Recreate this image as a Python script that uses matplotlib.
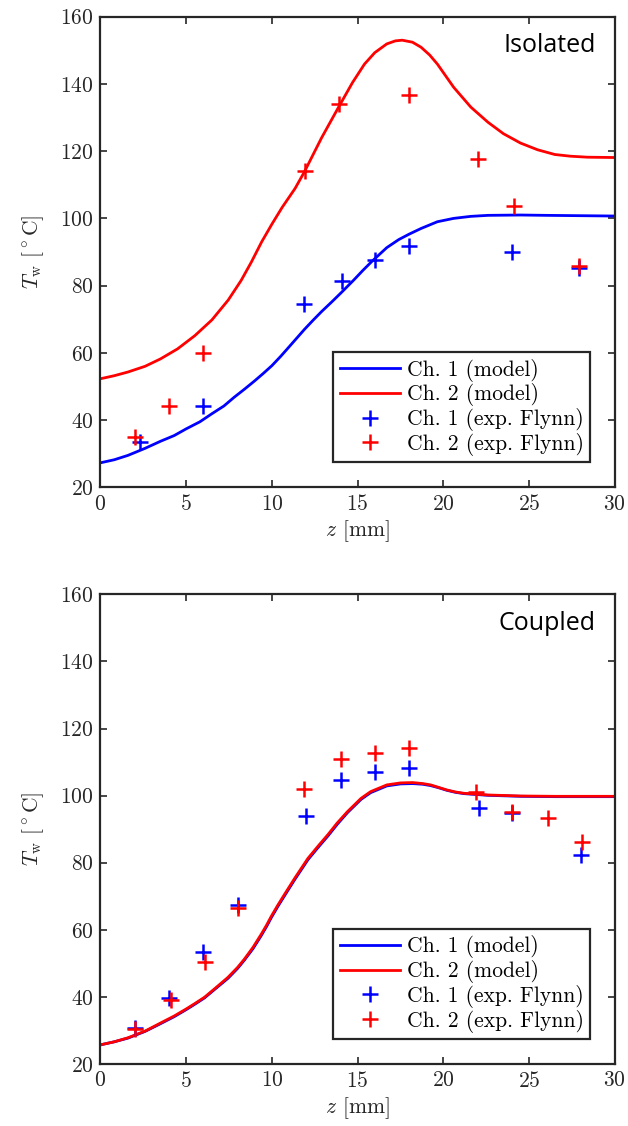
import matplotlib
matplotlib.use("Agg")
import matplotlib.pyplot as plt

plt.rcParams['font.family'] = ['cmr10', 'DejaVu Serif']
plt.rcParams['mathtext.fontset'] = 'cm'
plt.rcParams['axes.formatter.use_mathtext'] = True

# ---- isolated case ----
iso_z_model_ch1 = [0, 0.8, 1.6, 2.6, 3.5, 4.3, 5, 5.8, 6.5, 7.2, 7.8, 8.4, 9, 9.5, 10, 10.5,
                   10.9, 11.4, 11.9, 12.4, 12.9, 13.5, 14.1, 14.8, 15.3, 15.85, 16.7, 17.4,
                   18, 18.7, 19.65, 20.6, 21.6, 22.6, 24.5, 26, 28, 30]
iso_T_model_ch1 = [27.3, 28.2, 29.5, 31.6, 33.7, 35.4, 37.4, 39.5, 41.9, 44.2, 46.8, 49.2, 51.7,
                   53.9, 56.2, 58.9, 61.2, 64.1, 67.0, 69.7, 72.3, 75.2, 78.2, 81.8, 84.5,
                   87.3, 91.3, 93.7, 95.3, 97.0, 99.0, 100.0, 100.6, 100.9, 101.0, 100.9, 100.8, 100.7]

iso_z_model_ch2 = [0, 0.8, 1.6, 2.6, 3.5, 4.5, 5.5, 6.5, 7.45, 8.2, 8.8, 9.4, 10, 10.6, 11.35,
                   11.9, 12.9, 13.9, 14.7, 15.4, 16, 16.7, 17.2, 17.6, 18.2, 18.7, 19.2, 19.65,
                   20.6, 21.6, 22.6, 23.5, 24.5, 25.5, 26.5, 27.4, 28.4, 30]
iso_T_model_ch2 = [52.3, 53.2, 54.3, 56.0, 58.2, 61.2, 65.1, 69.8, 75.7, 81.5, 87.0, 93.0, 98.3,
                   103.3, 108.9, 113.9, 124.0, 133.2, 140.4, 145.9, 149.3, 151.9, 152.8, 153.0,
                   152.4, 150.9, 148.6, 145.9, 139.0, 133.1, 128.6, 125.2, 122.4, 120.4, 119.0,
                   118.5, 118.2, 118.1]

iso_z_exp_ch1 = [2.3, 6, 11.9, 14.1, 16, 18, 24, 27.9]
iso_T_exp_ch1 = [33.6, 44.2, 74.4, 81.3, 87.7, 91.8, 90.0, 85.2]
iso_z_exp_ch2 = [2, 4, 6, 11.95, 13.9, 18, 22, 24.1, 27.9]
iso_T_exp_ch2 = [34.9, 44.2, 60.0, 114.1, 134.0, 136.7, 117.6, 103.8, 85.8]

# ---- coupled case ----
cpl_z_model_ch2 = [0, 0.8, 1.6, 2.6, 3.5, 4.3, 5, 5.5, 6.07, 6.7, 7.43, 8, 8.4, 8.9, 9.38, 9.7,
                   9.96, 10.35, 10.74, 11.32, 12.1, 12.7, 13.27, 13.8, 14.4, 14.8, 15.2, 15.76,
                   16.7, 17.5, 18.2, 18.8, 19.26, 19.7, 20.2, 20.7, 21.2, 22.6, 24.5, 26.5, 28.5, 30]
cpl_T_model_ch2 = [25.7, 26.6, 27.8, 29.8, 32.2, 34.3, 36.4, 38.0, 39.9, 42.6, 45.8, 48.8, 51.3,
                   54.8, 58.7, 61.5, 64.0, 67.4, 70.6, 75.3, 81.3, 85.0, 88.4, 91.8, 95.2, 97.2,
                   99.2, 101.2, 103.2, 103.8, 103.9, 103.6, 103.2, 102.5, 101.7, 101.1, 100.7,
                   100.2, 99.9, 99.8, 99.8, 99.8]
cpl_z_model_ch1 = cpl_z_model_ch2
cpl_T_model_ch1 = [25.7, 26.6, 27.7, 29.7, 32.0, 34.1, 36.2, 37.8, 39.7, 42.4, 45.5, 48.5, 51.0,
                   54.4, 58.3, 61.1, 63.6, 67.0, 70.2, 74.9, 80.9, 84.6, 88.0, 91.4, 94.9, 96.9,
                   98.9, 100.9, 102.9, 103.5, 103.6, 103.4, 103.0, 102.4, 101.6, 101.0, 100.6,
                   100.1, 99.8, 99.7, 99.7, 99.7]

cpl_z_exp_ch1 = [2, 4, 6, 8, 12, 14, 16, 18, 22.05, 24, 28]
cpl_T_exp_ch1 = [30.6, 39.7, 53.4, 67.4, 93.9, 104.6, 107.1, 108.1, 96.2, 94.8, 82.4]
cpl_z_exp_ch2 = [2, 4.1, 6.1, 8, 11.9, 14, 16, 18, 21.9, 24, 26.1, 28.1]
cpl_T_exp_ch2 = [30.4, 39.2, 50.5, 66.4, 102.1, 110.9, 112.6, 114.3, 101.2, 95.2, 93.3, 86.1]

dark = '#262626'

fig = plt.figure(figsize=(6.28, 11.26), dpi=100)
ax1 = fig.add_axes([0.160, 0.5672, 0.819, 0.418])
ax2 = fig.add_axes([0.160, 0.0551, 0.819, 0.417])

panels = [
    (ax1, 'Isolated', iso_z_model_ch1, iso_T_model_ch1, iso_z_model_ch2, iso_T_model_ch2,
     iso_z_exp_ch1, iso_T_exp_ch1, iso_z_exp_ch2, iso_T_exp_ch2),
    (ax2, 'Coupled', cpl_z_model_ch1, cpl_T_model_ch1, cpl_z_model_ch2, cpl_T_model_ch2,
     cpl_z_exp_ch1, cpl_T_exp_ch1, cpl_z_exp_ch2, cpl_T_exp_ch2),
]

for ax, title, zm1, tm1, zm2, tm2, ze1, te1, ze2, te2 in panels:
    ax.plot(zm1, tm1, color='#0000ff', lw=2.0, label='Ch. 1 (model)')
    ax.plot(zm2, tm2, color='#ff0000', lw=2.0, label='Ch. 2 (model)')
    ax.plot(ze1, te1, '+', color='#0000ff', ms=12, mew=1.8, label='Ch. 1 (exp. Flynn)')
    ax.plot(ze2, te2, '+', color='#ff0000', ms=12, mew=1.8, label='Ch. 2 (exp. Flynn)')

    ax.set_xlim(0, 30)
    ax.set_ylim(20, 160)
    ax.set_xticks(range(0, 31, 5))
    ax.set_yticks(range(20, 161, 20))
    ax.tick_params(direction='in', top=True, right=True, length=5, width=1.2,
                   labelsize=15.5, colors=dark, pad=5)
    for sp in ax.spines.values():
        sp.set_linewidth(1.6)
        sp.set_color(dark)

    ax.set_xlabel(r'$z$ [mm]', fontsize=15.5, color=dark, labelpad=3)
    ax.set_ylabel(r'$T_{\rm w}$ [$^\circ$C]', fontsize=15.5, color=dark, labelpad=10)

    ax.text(0.963, 0.924, title, transform=ax.transAxes, ha='right', va='baseline',
            fontsize=18, family='Open Sans', color='black')

    leg = ax.legend(loc='lower right', bbox_to_anchor=(0.952, 0.053), fontsize=15.5,
                    frameon=True, fancybox=False, framealpha=1, edgecolor=dark,
                    labelspacing=0.08, borderpad=0.3, handlelength=2.8,
                    handletextpad=0.3, borderaxespad=0)
    leg.get_frame().set_linewidth(1.6)

fig.savefig('out.png', dpi=100)
